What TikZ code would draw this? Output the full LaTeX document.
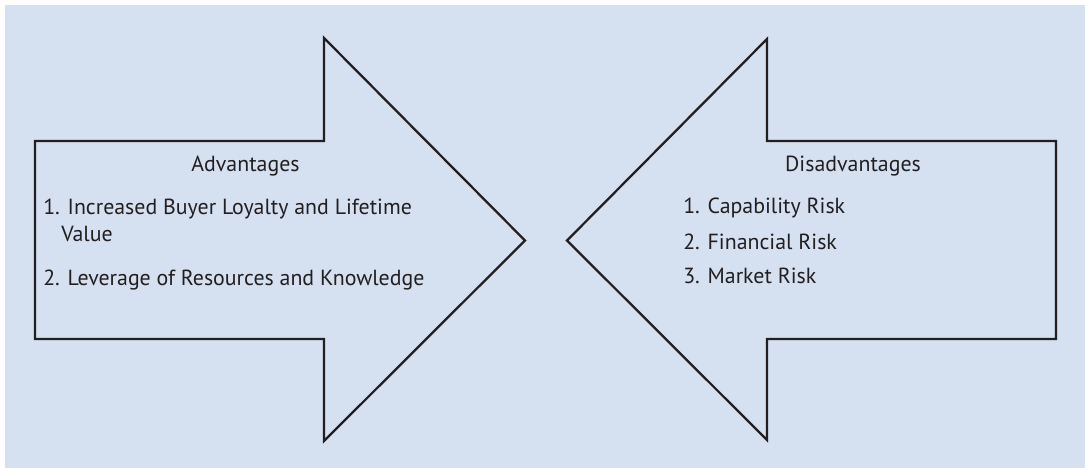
\documentclass[tikz,border=0pt]{standalone}
\usepackage{fontspec}
\setmainfont{PT Sans}
\usepackage{tikz}
\usetikzlibrary{positioning}

\definecolor{panelblue}{RGB}{213,224,241}
\definecolor{inkgray}{RGB}{35,31,32}

\begin{document}
\begin{tikzpicture}[
    x=0.75pt, y=-0.75pt,
    bigarrow/.style={draw=inkgray, fill=panelblue, line width=1.7pt, line join=miter},
    title/.style={font=\fontsize{16.4}{20}\selectfont, text=inkgray, inner sep=0pt, anchor=base},
    item/.style={font=\fontsize{16.4}{20}\selectfont, text=inkgray, inner sep=0pt, anchor=base west}
]
    % Canvas
    \fill[white] (0,0) rectangle (1085,468);
    \fill[panelblue] (5,5) rectangle (1085,468);
    \useasboundingbox (0,0) rectangle (1085,468);

    % Left arrow (pointing right)
    \draw[bigarrow] (35,141) -- (324,141) -- (324,38) -- (525,240.5)
        -- (324,441) -- (324,339) -- (35,339) -- cycle;

    % Right arrow (pointing left)
    \draw[bigarrow] (1056,141) -- (767,141) -- (767,39) -- (567,240.5)
        -- (767,440) -- (767,339) -- (1056,339) -- cycle;

    % Advantages
    \node[title] (adv) at (245.5,171) {Advantages};
    \node[item] (adv1) at (43,214) {1. Increased Buyer Loyalty and Lifetime};
    \node[item] (adv1b) at (61,241) {Value};
    \node[item] (adv2) at (43,285) {2. Leverage of Resources and Knowledge};

    % Disadvantages
    \node[title] (dis) at (853,171) {Disadvantages};
    \node[item] (dis1) at (683,213) {1. Capability Risk};
    \node[item] (dis2) at (683,249) {2. Financial Risk};
    \node[item] (dis3) at (683,283) {3. Market Risk};

\end{tikzpicture}
\end{document}
